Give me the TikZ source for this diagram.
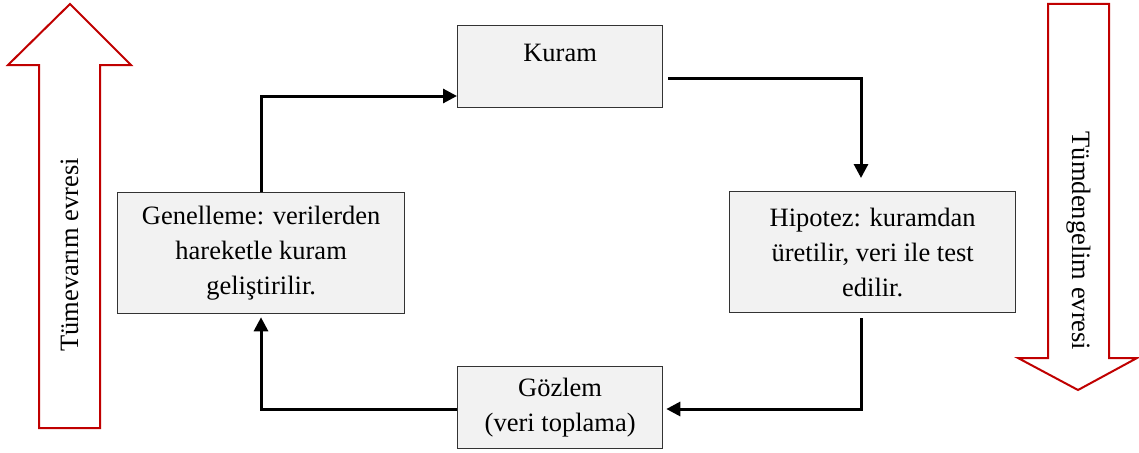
\documentclass[tikz,border=0pt]{standalone}
\usepackage{fontspec}
\setmainfont{Liberation Serif}
\usetikzlibrary{arrows.meta,calc}
\definecolor{phasered}{HTML}{C00000}
\definecolor{boxfill}{HTML}{F2F2F2}
\begin{document}
\begin{tikzpicture}[x=1pt,y=-1pt,
  txt/.style={font=\fontsize{26.5}{35}\selectfont},
  stagebox/.style={txt, draw=black!80, line width=1.3pt, fill=boxfill,
    align=center, anchor=north west, inner sep=0pt},
  conn/.style={line width=3pt, -{Triangle[length=14pt,width=14pt]}},
  phase/.style={draw=phasered, line width=2pt, fill=white, line join=miter}]
\useasboundingbox (0,0) rectangle (1139,452);

% phase arrows
\draw[phase] (39,428) -- (39,65) -- (8,65) -- (70,4) -- (131,65)
  -- (100,65) -- (100,428) -- cycle;
\node[txt, rotate=90] (induct) at (69.5,255) {Tümevarım evresi};

\draw[phase] (1048,4) -- (1109,4) -- (1109,358) -- (1137,358) -- (1078,390)
  -- (1018,358) -- (1048,358) -- cycle;
\node[txt, rotate=-90] (deduct) at (1078.5,241) {Tümdengelim evresi};

% stages of the cycle
\node[stagebox, minimum width=205pt, text width=205pt,
  text height=36pt, text depth=46pt] (kur) at (457,25) {Kuram};
\node[stagebox, minimum width=286pt, minimum height=121pt] (hyp) at (729,191)
  {Hipotez: kuramdan\\üretilir, veri ile test\\edilir.};
\node[stagebox, minimum width=205pt, minimum height=82pt] (gz) at (457,366)
  {Gözlem\\(veri toplama)};
\node[stagebox, minimum width=287pt, minimum height=121pt] (gen) at (117,192)
  {Genelleme: verilerden\\hareketle kuram\\geliştirilir.};

% elbow corners
\coordinate (tl) at (261,96);
\coordinate (tr) at (861,78);
\coordinate (br) at (861,409);
\coordinate (bl) at (261,409);

% connectors
\draw[conn] (gen.north -| tl) -- (tl) -- (kur.west |- tl);
\draw[conn] ($(kur.east |- tr)+(5,0)$) -- (tr) -- ($(hyp.north -| tr)+(0,-13)$);
\draw[conn] ($(hyp.south -| br)+(0,5)$) -- (br) -- ($(gz.east |- br)+(3,0)$);
\draw[conn] (gz.west |- bl) -- (bl) -- ($(gen.south -| bl)+(0,3)$);
\end{tikzpicture}
\end{document}
